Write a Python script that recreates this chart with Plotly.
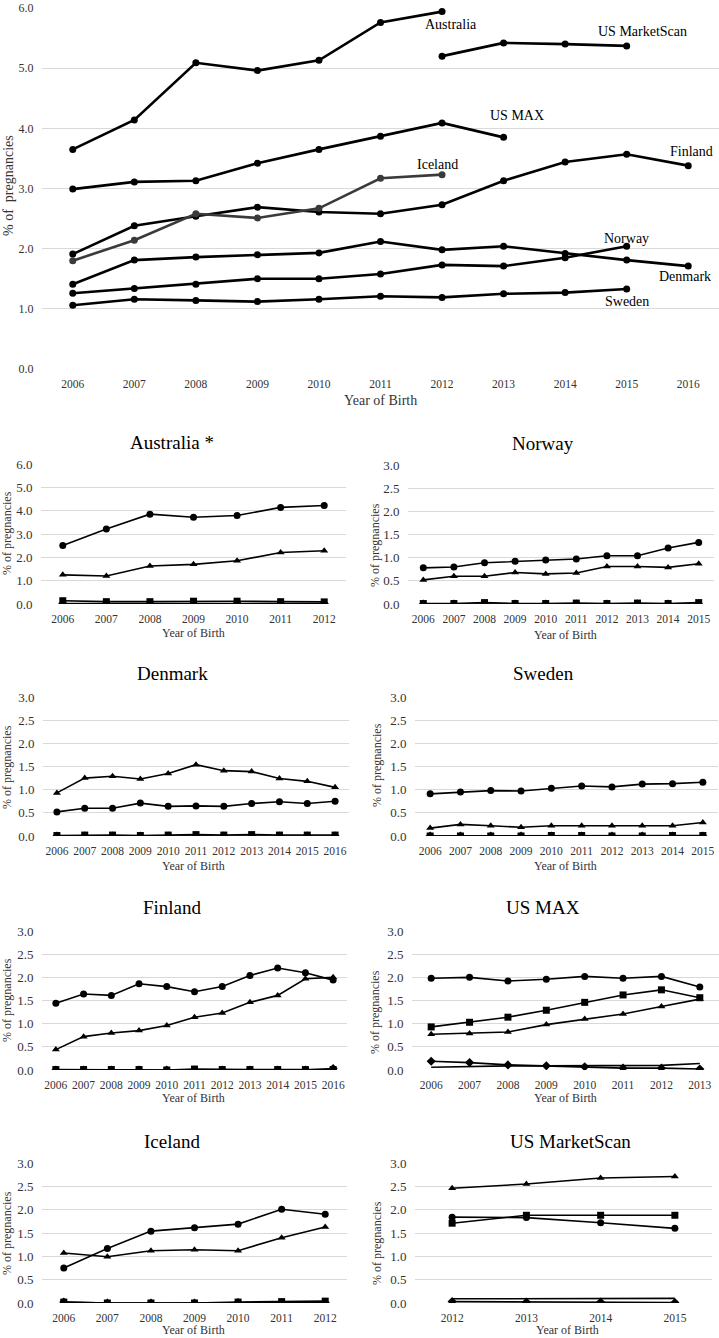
import plotly.graph_objects as go

W, H = 719, 1338
FONT = "Liberation Serif"

# ---- overview chart data ----
years_all = [2006, 2007, 2008, 2009, 2010, 2011, 2012, 2013, 2014, 2015, 2016]
australia = [3.65, 4.14, 5.09, 4.96, 5.13, 5.76, 5.94]
us_marketscan_years = [2012, 2013, 2014, 2015]
us_marketscan = [5.20, 5.42, 5.40, 5.37]
us_max = [2.99, 3.11, 3.13, 3.42, 3.65, 3.87, 4.09, 3.85]
finland = [1.91, 2.38, 2.54, 2.69, 2.61, 2.58, 2.73, 3.13, 3.44, 3.57, 3.38]
iceland = [1.80, 2.14, 2.58, 2.51, 2.67, 3.17, 3.23]
denmark = [1.41, 1.81, 1.86, 1.90, 1.93, 2.12, 1.98, 2.04, 1.92, 1.81, 1.71]
norway = [1.26, 1.34, 1.41, 1.50, 1.50, 1.58, 1.73, 1.71, 1.85, 2.04]
sweden = [1.06, 1.16, 1.14, 1.12, 1.16, 1.21, 1.19, 1.25, 1.27, 1.33]

# ---- per-country panels (circle, triangle, square, diamond, plain line) ----
aus_years = years_all[:7]
aus_circle = [2.51, 3.21, 3.85, 3.72, 3.79, 4.14, 4.22]
aus_triangle = [1.25, 1.20, 1.63, 1.70, 1.85, 2.21, 2.28]
aus_square = [0.14, 0.10, 0.10, 0.12, 0.12, 0.10, 0.09]
aus_diamond = [0.02, 0.02, 0.02, 0.02, 0.02, 0.02, 0.02]

nor_years = years_all[:10]
nor_circle = [0.78, 0.80, 0.89, 0.92, 0.95, 0.97, 1.04, 1.04, 1.21, 1.33]
nor_triangle = [0.52, 0.60, 0.60, 0.68, 0.65, 0.67, 0.81, 0.81, 0.79, 0.87]
nor_square = [0.01, 0.01, 0.03, 0.01, 0.01, 0.02, 0.01, 0.02, 0.01, 0.03]
nor_diamond = [0.0, 0.0, 0.0, 0.0, 0.0, 0.0, 0.0, 0.0, 0.0, 0.0]

den_years = years_all
den_circle = [0.52, 0.60, 0.60, 0.71, 0.64, 0.65, 0.64, 0.70, 0.74, 0.70, 0.75]
den_triangle = [0.93, 1.25, 1.29, 1.23, 1.35, 1.54, 1.41, 1.39, 1.24, 1.18, 1.05]
den_square = [0.01, 0.02, 0.02, 0.01, 0.02, 0.03, 0.02, 0.03, 0.02, 0.02, 0.02]
den_diamond = [0.0, 0.0, 0.0, 0.0, 0.0, 0.0, 0.0, 0.0, 0.0, 0.0, 0.0]

swe_years = years_all[:10]
swe_circle = [0.91, 0.95, 0.98, 0.97, 1.03, 1.08, 1.06, 1.12, 1.13, 1.16]
swe_triangle = [0.17, 0.25, 0.22, 0.19, 0.22, 0.22, 0.22, 0.22, 0.22, 0.29]
swe_square = [0.0, 0.0, 0.0, 0.0, 0.01, 0.01, 0.0, 0.0, 0.01, 0.01]
swe_diamond = [0.0, 0.0, 0.0, 0.0, 0.0, 0.0, 0.0, 0.0, 0.0, 0.0]

fin_years = years_all
fin_circle = [1.44, 1.64, 1.61, 1.86, 1.80, 1.69, 1.80, 2.04, 2.20, 2.10, 1.94]
fin_triangle = [0.44, 0.72, 0.80, 0.85, 0.96, 1.14, 1.23, 1.46, 1.61, 1.97, 2.00]
fin_square = [0.01, 0.01, 0.01, 0.01, 0.0, 0.02, 0.01, 0.01, 0.01, 0.01, 0.01]
fin_diamond = [0.0, 0.0, 0.0, 0.0, 0.0, 0.0, 0.0, 0.0, 0.0, 0.0, 0.03]

max_years = years_all[:8]
max_circle = [1.98, 2.00, 1.92, 1.96, 2.02, 1.98, 2.02, 1.79]
max_square = [0.93, 1.03, 1.14, 1.29, 1.46, 1.62, 1.73, 1.56]
max_triangle = [0.77, 0.79, 0.82, 0.98, 1.10, 1.21, 1.37, 1.53]
max_diamond = [0.19, 0.16, 0.11, 0.09, 0.07, 0.04, 0.04, 0.02]
max_line = [0.06, 0.08, 0.09, 0.09, 0.09, 0.09, 0.10, 0.14]

ice_years = years_all[:7]
ice_circle = [0.75, 1.17, 1.54, 1.61, 1.69, 2.01, 1.90]
ice_triangle = [1.07, 0.99, 1.12, 1.14, 1.12, 1.40, 1.63]
ice_square = [0.02, 0.0, 0.0, 0.0, 0.02, 0.03, 0.04]
ice_diamond = [0.02, 0.0, 0.0, 0.0, 0.01, 0.01, 0.01]

ms_years = [2012, 2013, 2014, 2015]
ms_triangle = [2.46, 2.55, 2.68, 2.71]
ms_square = [1.71, 1.88, 1.88, 1.88]
ms_circle = [1.84, 1.83, 1.72, 1.60]
ms_line = [0.09, 0.09, 0.10, 0.10]
ms_diamond = [0.03, 0.02, 0.02, 0.01]


def px_x(a, b):
    return [a / W, min(b / W, 1.0)]


def px_y(top, bottom):
    return [1 - bottom / H, 1 - top / H]


def label(text, x, y, size, color="#333333", angle=0, ref="paper"):
    if ref == "paper":
        x, y = x / W, 1 - y / H
    return dict(text=text, x=x, y=y, xref="paper" if ref == "paper" else "x",
                yref="paper" if ref == "paper" else "y", textangle=angle,
                xanchor="center", yanchor="middle", showarrow=False,
                font=dict(size=size, family=FONT, color=color))


fig = go.Figure()
annotations = []

# ---- overview chart ----
overview = [
    ("Australia", years_all[:7], australia, "black"),
    ("US MarketScan", us_marketscan_years, us_marketscan, "black"),
    ("US MAX", years_all[:8], us_max, "black"),
    ("Finland", years_all, finland, "black"),
    ("Iceland", years_all[:7], iceland, "#3a3a3a"),
    ("Denmark", years_all, denmark, "black"),
    ("Norway", years_all[:10], norway, "black"),
    ("Sweden", years_all[:10], sweden, "black"),
]
for name, xs, ys, col in overview:
    fig.add_trace(go.Scatter(x=xs, y=ys, name=name, mode="lines+markers",
                             line=dict(color=col, width=2.6),
                             marker=dict(symbol="circle", size=7, color=col),
                             xaxis="x", yaxis="y", showlegend=False))

# country labels (data coordinates)
labels = [("Australia", 2012.15, 5.72), ("US MarketScan", 2015.25, 5.61),
          ("US MAX", 2013.22, 4.21), ("Finland", 2016.05, 3.62),
          ("Iceland", 2011.93, 3.40), ("Norway", 2015.0, 2.17),
          ("Denmark", 2015.95, 1.53), ("Sweden", 2015.0, 1.12)]
for txt, lx, ly in labels:
    annotations.append(label(txt, lx, ly, 14, color="black", ref="data"))

grid = "#d9d9d9"
axis_common = dict(showgrid=False, zeroline=False, showline=False, automargin=False,
                   ticks="outside", ticklen=4, tickcolor="rgba(0,0,0,0)",
                   tickfont=dict(family=FONT, size=11.5, color="#333333"))
yaxis_common = dict(showgrid=True, gridcolor=grid, gridwidth=1, zeroline=False,
                    showline=False, automargin=False, ticks="outside", ticklen=5,
                    tickcolor="rgba(0,0,0,0)", tickformat=".1f",
                    tickfont=dict(family=FONT, size=13, color="#333333"))

layout = dict(
    xaxis=dict(axis_common, domain=px_x(42, 719), range=[2005.5, 2016.5],
               tickvals=years_all, anchor="y"),
    yaxis=dict(yaxis_common, domain=px_y(8, 369), range=[0, 6], dtick=1,
               tickfont=dict(family=FONT, size=12, color="#333333"), anchor="x"),
)
annotations.append(label("Year of Birth", 380, 400, 14))
annotations.append(label("% of  pregnancies", 9, 186, 14, angle=-90))

# ---- country panels ----
panels = [
    ("Australia *", aus_years, [("circle", aus_circle), ("triangle-up", aus_triangle),
                                ("square", aus_square), ("diamond", aus_diamond)],
     6, (41, 346), (464, 604), (172, 442), (7, 533), (193, 633)),
    ("Norway", nor_years, [("circle", nor_circle), ("triangle-up", nor_triangle),
                           ("square", nor_square), ("diamond", nor_diamond)],
     3, (408, 714), (465, 604), (543, 443), (375, 545), (565, 635)),
    ("Denmark", den_years, [("circle", den_circle), ("triangle-up", den_triangle),
                            ("square", den_square), ("diamond", den_diamond)],
     3, (43, 349), (697, 836), (172, 673), (7, 767), (193, 866)),
    ("Sweden", swe_years, [("circle", swe_circle), ("triangle-up", swe_triangle),
                           ("square", swe_square), ("diamond", swe_diamond)],
     3, (415, 718), (697, 836), (543, 673), (377, 765), (565, 866)),
    ("Finland", fin_years, [("circle", fin_circle), ("triangle-up", fin_triangle),
                            ("square", fin_square), ("diamond", fin_diamond)],
     3, (42, 347), (931, 1070), (172, 907), (7, 1000), (193, 1098)),
    ("US MAX", max_years, [("circle", max_circle), ("square", max_square),
                           ("triangle-up", max_triangle), ("diamond", max_diamond),
                           (None, max_line)],
     3, (412, 719), (931, 1070), (543, 907), (375, 1012), (565, 1098)),
    ("Iceland", ice_years, [("circle", ice_circle), ("triangle-up", ice_triangle),
                            ("square", ice_square), ("diamond", ice_diamond)],
     3, (42, 347), (1163, 1303), (172, 1141), (7, 1233), (193, 1330)),
    ("US MarketScan", ms_years, [("triangle-up", ms_triangle), ("square", ms_square),
                                 ("circle", ms_circle), (None, ms_line),
                                 ("diamond", ms_diamond)],
     3, (415, 712), (1163, 1303), (570, 1141), (377, 1243), (567, 1330)),
]

for i, (title, xs, series, ymax, xd, yd, tpos, ytpos, xtpos) in enumerate(panels, start=2):
    xa, ya = f"x{i}", f"y{i}"
    for sym, ys in series:
        if sym is None:
            fig.add_trace(go.Scatter(x=xs, y=ys, mode="lines", line=dict(color="black", width=1.6),
                                     xaxis=xa, yaxis=ya, showlegend=False))
        else:
            fig.add_trace(go.Scatter(x=xs, y=ys, mode="lines+markers",
                                     line=dict(color="black", width=1.6),
                                     marker=dict(symbol=sym, size=7, color="black"),
                                     xaxis=xa, yaxis=ya, showlegend=False))
    layout[f"xaxis{i}"] = dict(axis_common, domain=px_x(*xd), range=[xs[0] - 0.5, xs[-1] + 0.5],
                               tickvals=xs, anchor=ya)
    layout[f"yaxis{i}"] = dict(yaxis_common, domain=px_y(*yd), range=[0, ymax],
                               dtick=1 if ymax == 6 else 0.5, anchor=xa)
    annotations.append(label(title, tpos[0], tpos[1], 19, color="black"))
    annotations.append(label("% of pregnancies", ytpos[0], ytpos[1], 12, angle=-90))
    annotations.append(label("Year of Birth", xtpos[0], xtpos[1], 12))

fig.update_layout(**layout)
fig.update_layout(
    width=W, height=H, template="none",
    margin=dict(l=0, r=0, t=0, b=0),
    paper_bgcolor="white", plot_bgcolor="white",
    annotations=annotations, showlegend=False,
    font=dict(family=FONT),
)

fig.write_html("out.html", config={"displayModeBar": False},
               post_script="document.body.style.margin='0';document.body.style.overflow='hidden';")
